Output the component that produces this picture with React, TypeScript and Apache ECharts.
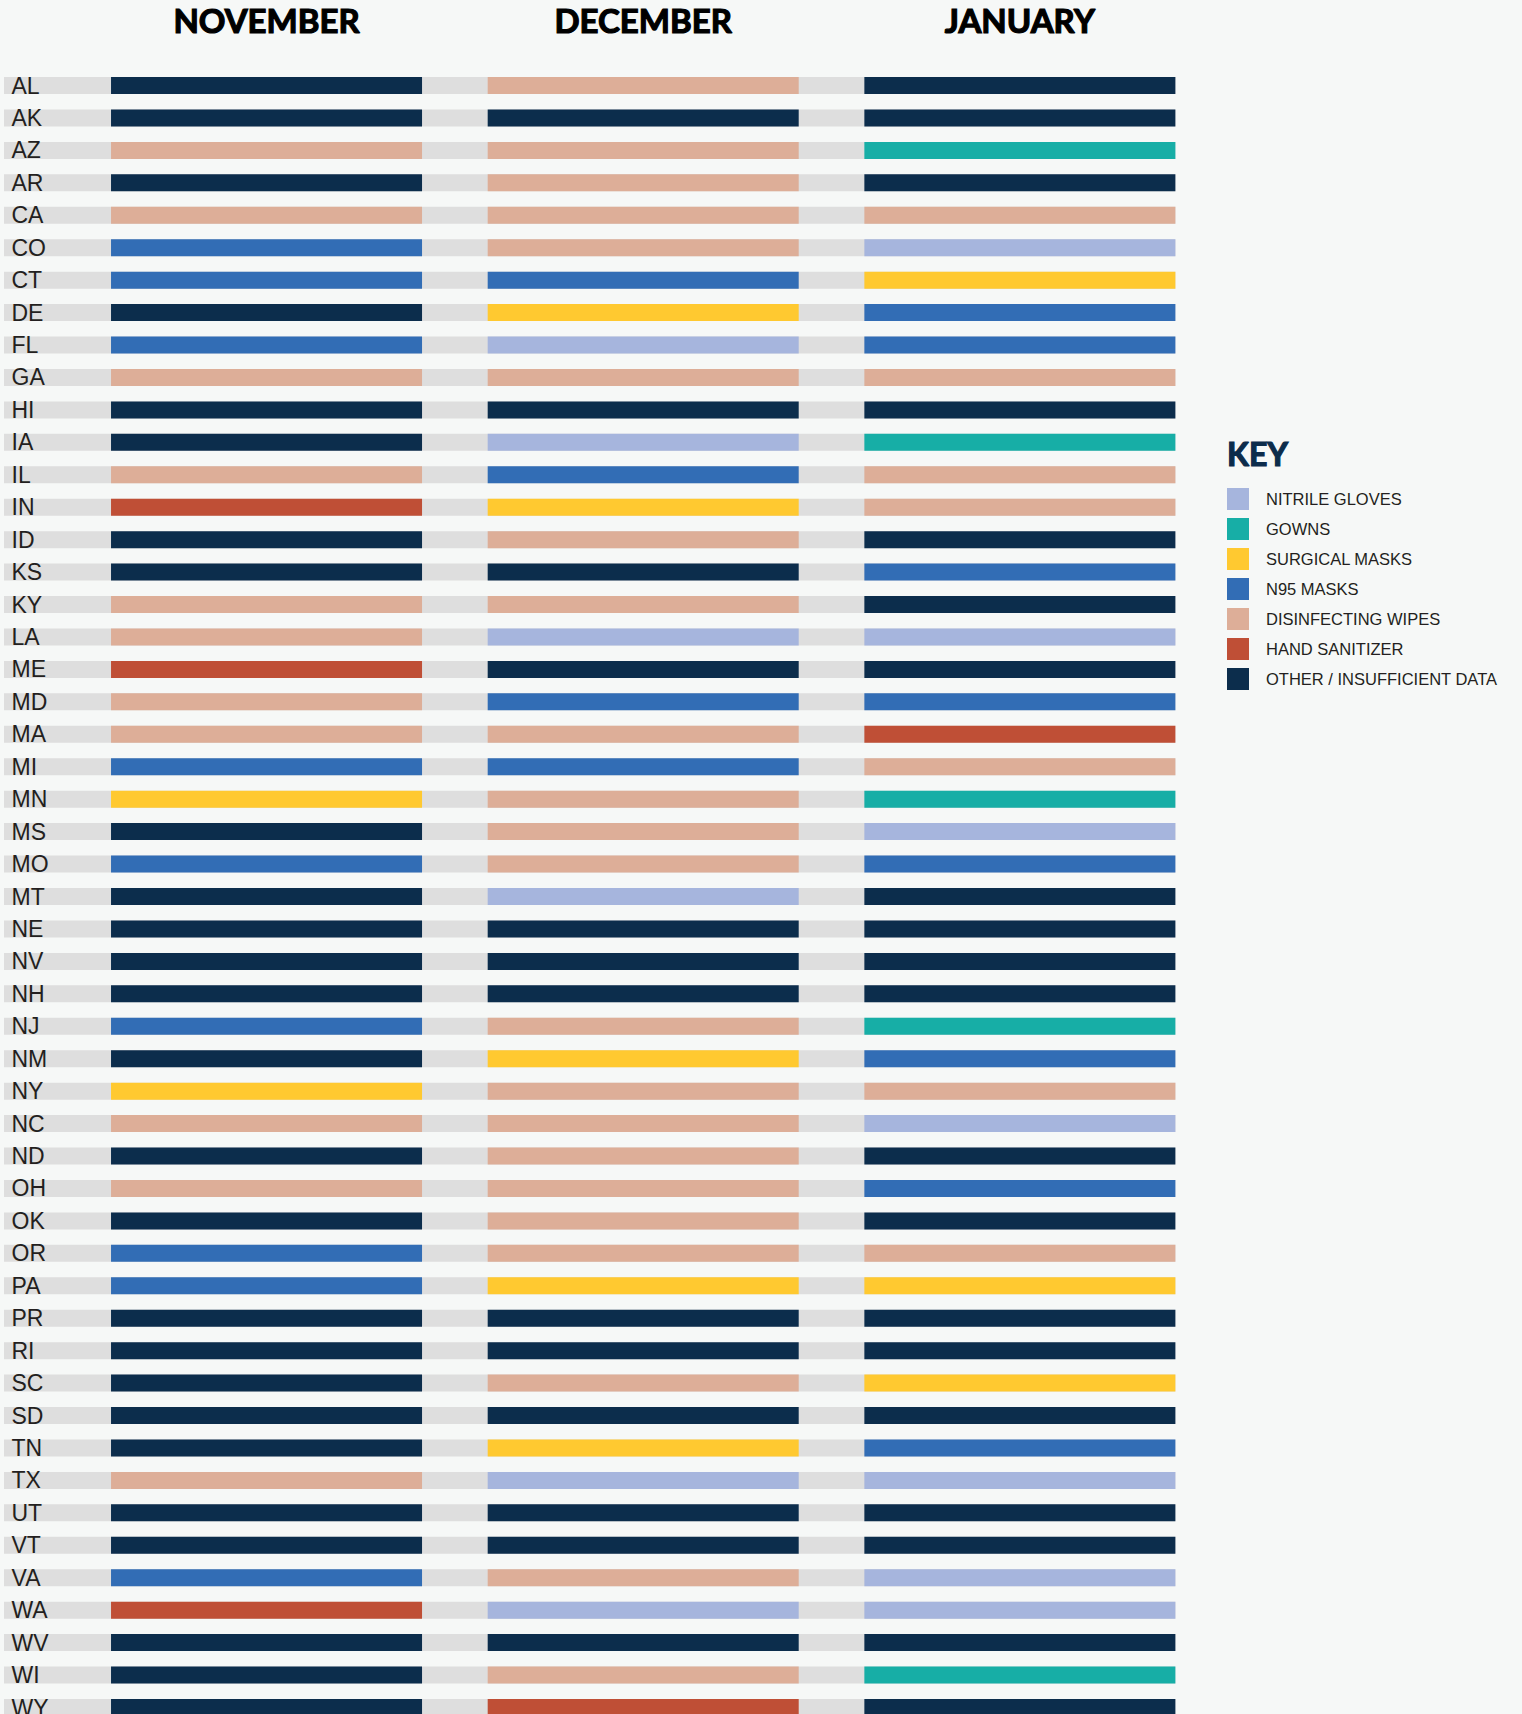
import React, { useEffect, useRef } from "react";
import * as echarts from "echarts";

const MONTHS = ["NOVEMBER", "DECEMBER", "JANUARY"];

const STATES = [
  "AL", "AK", "AZ", "AR", "CA", "CO", "CT", "DE", "FL", "GA",
  "HI", "IA", "IL", "IN", "ID", "KS", "KY", "LA", "ME", "MD",
  "MA", "MI", "MN", "MS", "MO", "MT", "NE", "NV", "NH", "NJ",
  "NM", "NY", "NC", "ND", "OH", "OK", "OR", "PA", "PR", "RI",
  "SC", "SD", "TN", "TX", "UT", "VT", "VA", "WA", "WV", "WI",
  "WY",
];

// L gloves, G gowns, S surgical masks, N N95, W wipes, H sanitizer, O other
const NOVEMBER = [
  "O", "O", "W", "O", "W", "N", "N", "O", "N", "W",
  "O", "O", "W", "H", "O", "O", "W", "W", "H", "W",
  "W", "N", "S", "O", "N", "O", "O", "O", "O", "N",
  "O", "S", "W", "O", "W", "O", "N", "N", "O", "O",
  "O", "O", "O", "W", "O", "O", "N", "H", "O", "O",
  "O",
];
const DECEMBER = [
  "W", "O", "W", "W", "W", "W", "N", "S", "L", "W",
  "O", "L", "N", "S", "W", "O", "W", "L", "O", "N",
  "W", "N", "W", "W", "W", "L", "O", "O", "O", "W",
  "S", "W", "W", "W", "W", "W", "W", "S", "O", "O",
  "W", "O", "S", "L", "O", "O", "W", "L", "O", "W",
  "H",
];
const JANUARY = [
  "O", "O", "G", "O", "W", "L", "S", "N", "N", "W",
  "O", "G", "W", "W", "O", "N", "O", "L", "O", "N",
  "H", "W", "G", "L", "N", "O", "O", "O", "O", "G",
  "N", "W", "L", "O", "N", "O", "W", "S", "O", "O",
  "S", "O", "N", "L", "O", "O", "L", "L", "O", "G",
  "O",
];

const SUPPLY_CODES = ["L", "G", "S", "N", "W", "H", "O"];
const SUPPLY_NAMES = [
  "NITRILE GLOVES",
  "GOWNS",
  "SURGICAL MASKS",
  "N95 MASKS",
  "DISINFECTING WIPES",
  "HAND SANITIZER",
  "OTHER / INSUFFICIENT DATA",
];
const SUPPLY_COLORS = [
  "#a6b5dd",
  "#17aea6",
  "#ffc930",
  "#326db5",
  "#ddae98",
  "#bf4f36",
  "#0c2d4c",
];

const BG = "#f6f8f7";
const BAND = "#dedede";
const BAR_W_RATIO = 0.8257;
const BAR_H_RATIO = 0.524;

export default function App() {
  const ref = useRef<HTMLDivElement>(null);

  useEffect(() => {
    document.body.style.margin = "0";
    document.body.style.overflow = "hidden";
    document.documentElement.style.overflow = "hidden";
    document.body.style.background = BG;
    if (!ref.current) return;
    const chart = echarts.init(ref.current, undefined, { renderer: "svg" });

    const monthData = [NOVEMBER, DECEMBER, JANUARY];

    const bandSeries = {
      type: "custom",
      name: "band",
      z: 1,
      silent: true,
      data: STATES.map((_, i) => [0, i]),
      renderItem: (params: any, api: any) => {
        const row = api.value(1);
        const bandW = api.size([1, 0])[0];
        const h = api.size([0, 1])[1] * BAR_H_RATIO;
        const c0 = api.coord([0, row]);
        const c2 = api.coord([2, row]);
        const x0 = c0[0] - bandW * 0.697;
        const x1 = c2[0] + (bandW * BAR_W_RATIO) / 2;
        return {
          type: "rect",
          shape: { x: x0, y: c0[1] - h / 2, width: x1 - x0, height: h },
          style: { fill: BAND },
        };
      },
    };

    const cellSeries = SUPPLY_CODES.map((code, k) => {
      const data: number[][] = [];
      monthData.forEach((arr, m) => {
        arr.forEach((v, s) => {
          if (v === code) data.push([m, s]);
        });
      });
      return {
        type: "custom",
        name: SUPPLY_NAMES[k],
        z: 2,
        itemStyle: { color: SUPPLY_COLORS[k] },
        data,
        renderItem: (params: any, api: any) => {
          const c = api.coord([api.value(0), api.value(1)]);
          const w = api.size([1, 0])[0] * BAR_W_RATIO;
          const h = api.size([0, 1])[1] * BAR_H_RATIO;
          return {
            type: "rect",
            shape: { x: c[0] - w / 2, y: c[1] - h / 2, width: w, height: h },
            style: { fill: SUPPLY_COLORS[k] },
          };
        },
      };
    });

    const rowPitch = 32.44;
    const gridTop = 85.5 - rowPitch / 2;

    chart.setOption({
      animation: false,
      backgroundColor: BG,
      grid: {
        left: 78.2,
        top: gridTop,
        width: 1130,
        height: rowPitch * STATES.length,
        containLabel: false,
      },
      xAxis: {
        type: "category",
        position: "top",
        data: MONTHS,
        axisLine: { show: false },
        axisTick: { show: false },
        splitLine: { show: false },
        axisLabel: {
          margin: gridTop - 20,
          verticalAlign: "middle",
          fontFamily: "Lato",
          fontWeight: "bold",
          fontSize: 33,
          color: "#000000",
          textBorderColor: "#000000",
          textBorderWidth: 1.2,
        },
      },
      yAxis: {
        type: "category",
        inverse: true,
        data: STATES,
        z: 10,
        axisLine: { show: false },
        axisTick: { show: false },
        splitLine: { show: false },
        axisLabel: {
          align: "left",
          margin: 78.2 - 11.5,
          fontFamily: "Liberation Sans",
          fontSize: 23,
          color: "#231f20",
        },
      },
      legend: {
        orient: "vertical",
        left: 1222,
        top: 483,
        itemWidth: 22,
        itemHeight: 22,
        itemGap: 8,
        icon: "rect",
        selectedMode: false,
        data: SUPPLY_NAMES,
        textStyle: {
          fontFamily: "Liberation Sans",
          fontSize: 16.5,
          color: "#231f20",
          padding: [0, 0, 0, 12],
        },
      },
      graphic: [
        {
          type: "text",
          x: 1227,
          y: 453,
          style: {
            text: "KEY",
            fontFamily: "Lato",
            fontWeight: "bold",
            fontSize: 32,
            fill: "#0c2c4b",
            stroke: "#0c2c4b",
            lineWidth: 1.2,
            align: "left",
            verticalAlign: "middle",
          },
        },
      ],
      series: [bandSeries, ...cellSeries],
    });

    return () => chart.dispose();
  }, []);

  return <div ref={ref} style={{ width: 1522, height: 1740, overflow: "hidden" }} />;
}
